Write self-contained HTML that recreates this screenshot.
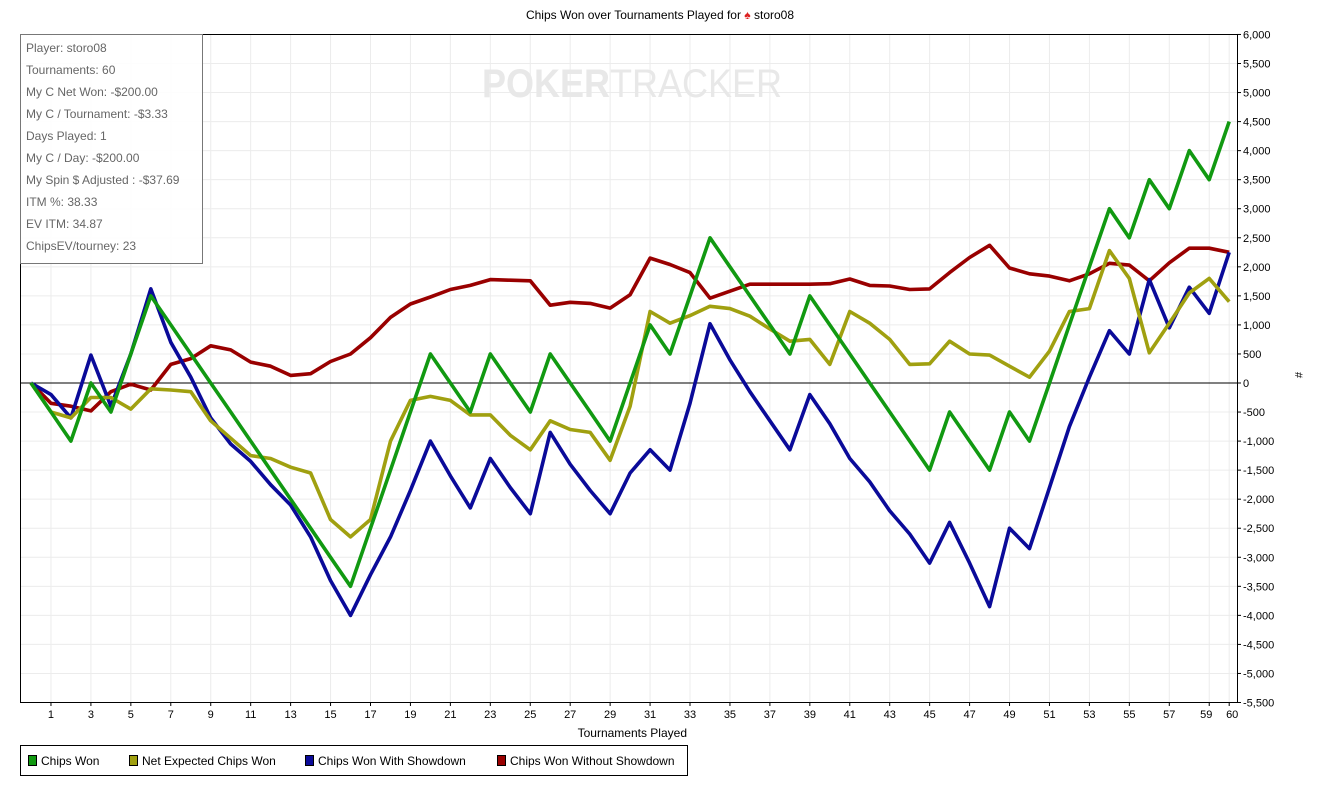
<!DOCTYPE html>
<html><head><meta charset="utf-8"><style>
body{margin:0;background:#fff;}
svg{display:block;font-family:"Liberation Sans",sans-serif;}
</style></head><body>
<svg width="1321" height="788" viewBox="0 0 1321 788" xmlns="http://www.w3.org/2000/svg">
<rect width="1321" height="788" fill="#fff"/>
<g id="grid" stroke="#ececec" stroke-width="1"></g>
<text x="660" y="19" font-size="12" text-anchor="middle" fill="#000">Chips Won over Tournaments Played for <tspan fill="#d22">♠</tspan> storo08</text>
<text x="632" y="97" font-size="40" font-weight="bold" fill="#e8e8e8" text-anchor="middle" textLength="300" lengthAdjust="spacingAndGlyphs">POKER<tspan font-weight="normal">TRACKER</tspan></text>
<line x1="20" y1="383" x2="1237" y2="383" stroke="#000" stroke-width="1"/>
<rect x="20.5" y="34.5" width="1217" height="668" fill="none" stroke="#000"/>
<g id="yt" font-size="11" fill="#000"></g>
<g id="xt" font-size="11" fill="#000" text-anchor="middle"></g>
<text x="1295" y="372" font-size="11" transform="rotate(90 1295 372)">#</text>
<text x="687" y="737" font-size="12" text-anchor="end">Tournaments Played</text>
<g id="lines" fill="none" stroke-width="3.6" stroke-linejoin="round"></g>
<rect x="20.5" y="34.5" width="182" height="229" fill="#fff" fill-opacity="0.9" stroke="#777"/>
<g font-size="12" fill="#666">
<text x="26" y="52">Player: storo08</text>
<text x="26" y="74">Tournaments: 60</text>
<text x="26" y="96">My C Net Won: -$200.00</text>
<text x="26" y="118">My C / Tournament: -$3.33</text>
<text x="26" y="140">Days Played: 1</text>
<text x="26" y="162">My C / Day: -$200.00</text>
<text x="26" y="184">My Spin $ Adjusted : -$37.69</text>
<text x="26" y="206">ITM %: 38.33</text>
<text x="26" y="228">EV ITM: 34.87</text>
<text x="26" y="250">ChipsEV/tourney: 23</text>
</g>
<rect x="20.5" y="745.5" width="667" height="30" fill="#fff" stroke="#000"/>
<g font-size="12" fill="#000">
<rect x="28.5" y="755.5" width="8" height="10" fill="#119911" stroke="#000"/><text x="41" y="765">Chips Won</text>
<rect x="129.5" y="755.5" width="8" height="10" fill="#a0a010" stroke="#000"/><text x="142" y="765">Net Expected Chips Won</text>
<rect x="305.5" y="755.5" width="8" height="10" fill="#0a0a99" stroke="#000"/><text x="318" y="765">Chips Won With Showdown</text>
<rect x="497.5" y="755.5" width="8" height="10" fill="#990000" stroke="#000"/><text x="510" y="765">Chips Won Without Showdown</text>
</g>
</svg>
<script>
const ns="http://www.w3.org/2000/svg";
const X=i=>31+i*19.97, Y=v=>383-v*0.05809;
const g=document.getElementById('grid'),yt=document.getElementById('yt'),xt=document.getElementById('xt');
function el(p,t,a,txt){const e=document.createElementNS(ns,t);for(const k in a)e.setAttribute(k,a[k]);if(txt!=null)e.textContent=txt;p.appendChild(e);return e;}
for(let v=-5500;v<=6000;v+=500){const y=Y(v);el(g,'line',{x1:20,x2:1237,y1:y,y2:y});el(yt,'line',{x1:1237,x2:1241,y1:y,y2:y,stroke:'#000'});el(yt,'text',{x:1243,y:y+4},v.toLocaleString('en-US'));}
for(let i=1;i<=60;i++){const x=X(i);if(i%2==1||i==60){el(g,'line',{x1:x,x2:x,y1:34,y2:702});el(xt,'line',{x1:x,x2:x,y1:702,y2:706,stroke:'#000'});el(xt,'text',{x:i==59?x-3:(i==60?x+3:x),y:718},i);}}
const S={
'#119911':[0,-500,-1000,0,-500,500,1500,1000,500,0,-500,-1000,-1500,-2000,-2500,-3000,-3500,-2500,-1500,-500,500,0,-500,500,0,-500,500,0,-500,-1000,0,1000,500,1500,2500,2000,1500,1000,500,1500,1000,500,0,-500,-1000,-1500,-500,-1000,-1500,-500,-1000,0,1000,2000,3000,2500,3500,3000,4000,3500,4500],
'#a0a010':[0,-500,-600,-250,-250,-450,-100,-120,-150,-650,-950,-1250,-1300,-1450,-1550,-2350,-2650,-2350,-1000,-300,-230,-300,-550,-550,-900,-1150,-650,-800,-850,-1330,-400,1230,1030,1160,1320,1280,1150,930,720,750,320,1230,1030,750,320,330,720,500,480,290,100,550,1230,1280,2280,1800,520,1030,1550,1800,1400],
'#0a0a99':[0,-200,-600,480,-400,500,1620,700,100,-600,-1050,-1350,-1750,-2100,-2650,-3400,-4000,-3300,-2650,-1850,-1000,-1600,-2150,-1300,-1800,-2250,-850,-1400,-1850,-2250,-1550,-1150,-1500,-350,1020,400,-150,-650,-1150,-200,-700,-1300,-1700,-2200,-2600,-3100,-2400,-3100,-3850,-2500,-2850,-1800,-750,100,900,500,1780,950,1650,1200,2250],
'#990000':[0,-350,-400,-480,-150,-20,-120,320,420,640,570,360,290,130,160,370,500,780,1130,1360,1480,1610,1680,1780,1770,1760,1340,1390,1370,1290,1520,2150,2040,1900,1460,1580,1700,1700,1700,1700,1710,1790,1680,1670,1610,1620,1900,2160,2370,1980,1880,1840,1760,1880,2060,2030,1760,2070,2320,2320,2250]};
const L=document.getElementById('lines');
for(const c of ['#990000','#0a0a99','#a0a010','#119911']){el(L,'polyline',{stroke:c,points:S[c].map((v,i)=>X(i).toFixed(1)+','+Y(v).toFixed(1)).join(' ')});}
</script>
</body></html>
